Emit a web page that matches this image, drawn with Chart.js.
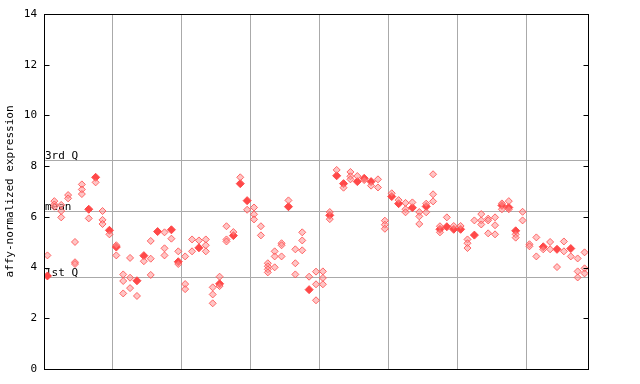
<!DOCTYPE html>
<html>
<head>
<meta charset="utf-8">
<script src="https://cdn.jsdelivr.net/npm/chart.js@4"></script>
<style>
  html, body { margin: 0; padding: 0; background: #fff; }
  #wrap { width: 640px; height: 384px; }
</style>
</head>
<body>
<div id="wrap"><canvas id="exprChart"></canvas></div>
<script>
// one filled (highlighted) value per sample, null where none
var highlight = [
  3.67, null, null, null, null, null, 6.30, 7.56, null, 5.47,
  4.81, null, null, 3.48, 4.47, null, 5.42, null, 5.49, 4.23,
  null, null, 4.78, null, null, 3.36, null, 5.26, 7.31, 6.64,
  null, null, null, null, null, 6.40, null, null, 3.13, null,
  null, 6.06, 7.62, 7.31, null, 7.39, 7.52, 7.39, null, null,
  6.80, 6.52, null, 6.36, null, 6.41, null, 5.51, 5.61, 5.51,
  5.51, null, 5.28, null, null, null, 6.45, 6.37, 5.45, null,
  null, null, 4.82, null, 4.72, null, 4.75, null, null
];
// other replicate values per sample
var replicates = [
  [4.48], [6.62, 6.49, 6.40], [6.47, 6.23, 5.98], [6.86, 6.73], [5.01, 4.21, 4.14],
  [7.28, 7.08, 6.90], [5.94], [7.36], [6.23, 5.88, 5.72], [5.31],
  [4.88, 4.48], [3.73, 3.47, 2.98], [4.38, 3.60, 3.19], [2.88], [4.25],
  [5.05, 4.35, 3.71], [], [5.39, 4.76, 4.48], [5.14], [4.64, 4.14],
  [4.44, 3.35, 3.15], [5.11, 4.64], [5.07], [5.11, 4.88, 4.64], [3.22, 2.94, 2.59],
  [3.64, 3.27], [5.63, 5.11, 5.03], [5.40], [7.56], [6.28],
  [6.37, 6.10, 5.90], [5.63, 5.27], [4.17, 4.05, 3.93, 3.81], [4.64, 4.44, 4.01], [4.96, 4.88, 4.44],
  [6.65], [4.72, 4.17, 3.73], [5.39, 5.07, 4.68], [3.64], [3.84, 3.34, 2.71],
  [3.85, 3.59, 3.34], [6.19, 5.91], [7.85], [7.15], [7.77, 7.60, 7.48],
  [7.61], [7.45], [7.23], [7.48, 7.16], [5.85, 5.69, 5.53],
  [6.93], [6.66], [6.55, 6.30, 6.18], [6.57], [6.19, 6.02, 5.72],
  [6.52, 6.18], [7.68, 6.89, 6.61], [5.63, 5.39], [5.98], [5.64],
  [5.64], [5.11, 4.96, 4.77], [5.86], [6.11, 5.86, 5.70], [5.93, 5.86, 5.35],
  [5.98, 5.67, 5.31], [6.53, 6.30], [6.62, 6.30], [5.31, 5.18], [6.20, 5.86],
  [4.92, 4.84], [5.19, 4.44], [4.72], [5.01, 4.72], [4.02],
  [5.03, 4.64], [4.44], [4.36, 3.85, 3.61], [4.60, 3.97, 3.77]
];
var groupBreaks = [10, 20, 30, 40, 50, 60, 70];
var yTicks = [0, 2, 4, 6, 8, 10, 12, 14];
var refLabels = ["3rd Q", "mean", "1st Q"];
var refValues = [8.23, 6.23, 3.63];

var nSamples = highlight.length;
var mono = "'DejaVu Sans Mono', monospace";

var filledPts = [];
var hollowPts = [];
highlight.forEach(function (v, i) {
    if (v !== null) filledPts.push({ x: i + 0.5, y: v });
});
replicates.forEach(function (list, i) {
    list.forEach(function (v) { hollowPts.push({ x: i + 0.5, y: v }); });
});

// reference lines, labels, frame and inward ticks
var framePlugin = {
    id: "frame",
    beforeDatasetsDraw: function (chart) {
        var ctx = chart.ctx, a = chart.chartArea, ys = chart.scales.y;
        ctx.save();
        ctx.strokeStyle = "#aaaaaa";
        ctx.lineWidth = 1;
        ctx.font = "11px " + mono;
        ctx.fillStyle = "#000";
        ctx.textBaseline = "bottom";
        refValues.forEach(function (v, k) {
            var py = Math.round(ys.getPixelForValue(v)) + 0.5;
            ctx.beginPath();
            ctx.moveTo(a.left, py);
            ctx.lineTo(a.right, py);
            ctx.stroke();
            ctx.fillText(refLabels[k], a.left + 1, py + 1);
        });
        ctx.restore();
    },
    afterDraw: function (chart) {
        var ctx = chart.ctx, a = chart.chartArea, ys = chart.scales.y;
        ctx.save();
        ctx.strokeStyle = "#000";
        ctx.lineWidth = 1;
        var l = Math.round(a.left) + 0.5, r = Math.round(a.right) + 0.5;
        var t = Math.round(a.top) + 0.5, b = Math.round(a.bottom) + 0.5;
        ctx.strokeRect(l, t, r - l, b - t);
        yTicks.forEach(function (v) {
            var py = Math.round(ys.getPixelForValue(v)) + 0.5;
            ctx.beginPath();
            ctx.moveTo(l, py); ctx.lineTo(l + 5, py);
            ctx.moveTo(r, py); ctx.lineTo(r - 5, py);
            ctx.stroke();
        });
        ctx.restore();
    }
};

var ctx1 = document.getElementById("exprChart").getContext("2d");
new Chart(ctx1, {
    type: "scatter",
    data: {
        datasets: [{
            label: "replicates",
            data: hollowPts,
            pointStyle: "rectRot",
            pointRadius: 3.5,
            borderWidth: 1,
            borderColor: "rgba(255, 80, 80, 0.85)",
            backgroundColor: "rgba(255, 150, 150, 0.55)"
        }, {
            label: "highlight",
            data: filledPts,
            pointStyle: "rectRot",
            pointRadius: 4,
            borderWidth: 1,
            borderColor: "#ff4848",
            backgroundColor: "#ff4848"
        }]
    },
    options: {
        responsive: true,
        maintainAspectRatio: false,
        animation: false,
        events: [],
        layout: { padding: { left: 0, right: 52, top: 14, bottom: 15 } },
        plugins: { legend: { display: false }, tooltip: { enabled: false } },
        scales: {
            x: {
                type: "linear",
                min: 0,
                max: nSamples,
                afterBuildTicks: function (s) {
                    s.ticks = groupBreaks.map(function (v) { return { value: v }; });
                },
                afterFit: function (s) { s.height = 0; },
                ticks: { display: false },
                grid: { color: "#aaaaaa", drawTicks: false },
                border: { display: false }
            },
            y: {
                min: 0,
                max: 14,
                afterBuildTicks: function (s) {
                    s.ticks = yTicks.map(function (v) { return { value: v }; });
                },
                afterFit: function (s) { s.width = 44; },
                ticks: {
                    padding: 7,
                    color: "#000",
                    font: { family: mono, size: 11 }
                },
                grid: { drawOnChartArea: false, drawTicks: false },
                border: { display: false },
                title: {
                    display: true,
                    text: "affy-normalized expression",
                    color: "#000",
                    font: { family: mono, size: 11 },
                    padding: { top: 4, bottom: 0 }
                }
            }
        }
    },
    plugins: [framePlugin]
});
</script>
</body>
</html>
